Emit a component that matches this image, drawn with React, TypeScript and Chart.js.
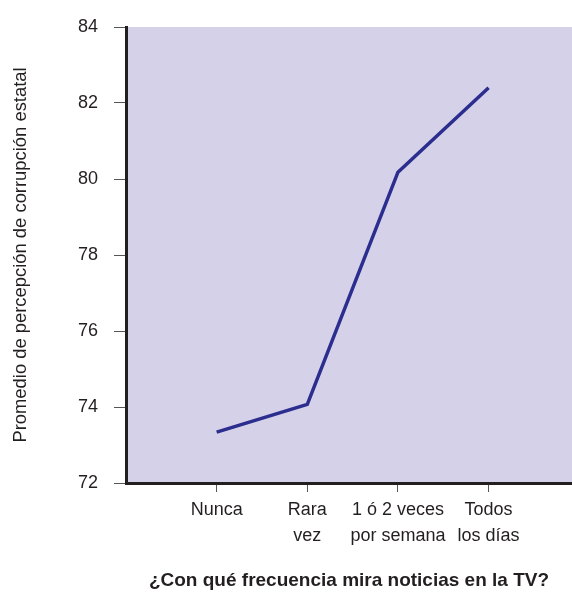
import React, { useEffect, useRef } from "react";
import { Chart, registerables } from "chart.js";

Chart.register(...registerables);

const categories: string[][] = [
  ["Nunca"],
  ["Rara", "vez"],
  ["1 ó 2 veces", "por semana"],
  ["Todos", "los días"],
];
const positions: number[] = [1, 2, 3, 4];
const values: number[] = [73.34, 74.07, 80.18, 82.4];
const yTicks: number[] = [72, 74, 76, 78, 80, 82, 84];
const yTitle = "Promedio de percepción de corrupción estatal";
const xTitle = "¿Con qué frecuencia mira noticias en la TV?";

const FONT = "'Liberation Sans', Arial, sans-serif";
const INK = "#231f20";

const bgPlugin = {
  id: "plotBg",
  beforeDraw(chart: any) {
    const { ctx, chartArea } = chart;
    if (!chartArea) return;
    ctx.save();
    ctx.fillStyle = "#d5d1e8";
    ctx.fillRect(chartArea.left, chartArea.top, chartArea.right - chartArea.left, chartArea.bottom - chartArea.top);
    ctx.restore();
  },
};

export default function App() {
  const ref = useRef<HTMLCanvasElement | null>(null);
  useEffect(() => {
    if (!ref.current) return;
    const chart = new Chart(ref.current, {
      type: "line",
      data: {
        datasets: [
          {
            data: positions.map((x, i) => ({ x, y: values[i] })),
            borderColor: "#2b2e8e",
            borderWidth: 3.5,
            pointRadius: 0,
            tension: 0,
            fill: false,
          },
        ],
      },
      plugins: [bgPlugin],
      options: {
        animation: false,
        responsive: false,
        layout: { padding: { top: 27, right: 0, bottom: 0, left: 0 } },
        plugins: { legend: { display: false }, tooltip: { enabled: false } },
        scales: {
          x: {
            type: "linear",
            min: 0,
            max: 4.92,
            afterBuildTicks: (scale: any) => {
              scale.ticks = positions.map((v) => ({ value: v }));
            },
            afterFit: (scale: any) => {
              scale.height = 113;
            },
            ticks: {
              autoSkip: false,
              maxRotation: 0,
              padding: 5,
              color: INK,
              font: { family: FONT, size: 18, lineHeight: 1.45 },
              callback: (v: any) => {
                const i = positions.indexOf(Number(v));
                return i >= 0 ? categories[i] : "";
              },
            },
            grid: { drawOnChartArea: false, tickLength: 9, tickColor: "#555", tickWidth: 1 },
            border: { color: INK, width: 3 },
            title: {
              display: true,
              text: xTitle,
              color: INK,
              font: { family: FONT, size: 19, weight: "bold", lineHeight: 1.2 },
              padding: { top: 0, bottom: 4 },
            },
          },
          y: {
            type: "linear",
            min: 72,
            max: 84,
            afterBuildTicks: (scale: any) => {
              scale.ticks = yTicks.map((v) => ({ value: v }));
            },
            afterFit: (scale: any) => {
              scale.width = 126;
            },
            ticks: {
              padding: 16,
              color: INK,
              font: { family: FONT, size: 18 },
            },
            grid: { drawOnChartArea: false, tickLength: 12, tickColor: "#555", tickWidth: 1 },
            border: { color: INK, width: 3 },
            title: {
              display: true,
              text: yTitle,
              color: INK,
              font: { family: FONT, size: 18.4, lineHeight: 1.2 },
              padding: { top: 10, bottom: 0 },
            },
          },
        },
      },
    });
    return () => chart.destroy();
  }, []);
  return (
    <div style={{ position: "absolute", left: 0, top: 0, width: 572, height: 596 }}>
      <canvas ref={ref} width={572} height={596} style={{ display: "block" }} />
    </div>
  );
}
